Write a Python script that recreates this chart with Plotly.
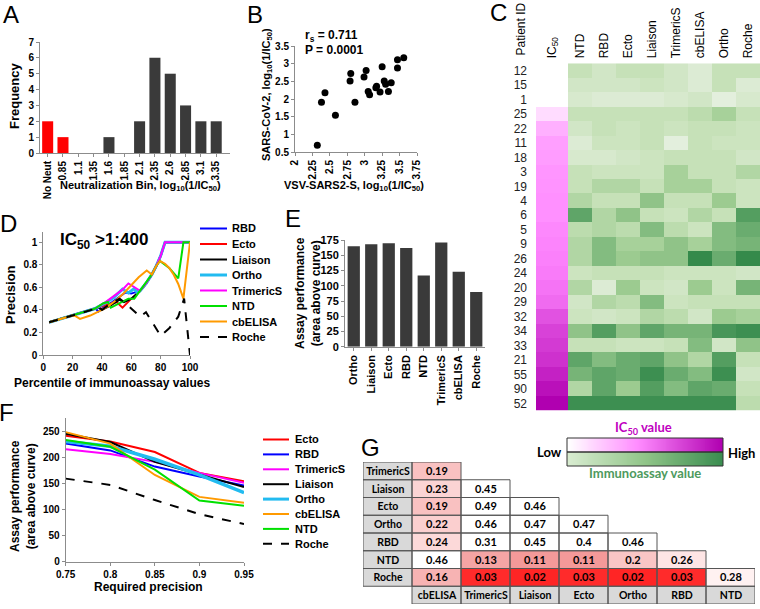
import numpy as np
import plotly.graph_objects as go

W, H = 760, 609
def PX(x): return x / W
def PY(y): return 1 - y / H
def dom_x(a, b): return [PX(a), PX(b)]
def dom_y(top, bottom): return [PY(bottom), PY(top)]

FONT = "Liberation Sans, Arial, sans-serif"
TFONT = "Lato, Carlito, Calibri, sans-serif"

# ---------------- Data ----------------
# Panel A: histogram of neutralization bins
bin_labels = ["No Neut", "0.85", "1.1", "1.35", "1.6", "1.85", "2.1", "2.35", "2.6", "2.85", "3.1", "3.35"]
bin_freq = [2, 1, 0, 0, 1, 0, 2, 6, 5, 3, 2, 2]
non_neut_bins = ["No Neut", "0.85"]

# Panel B: VSV-SARS2-S vs SARS-CoV-2 neutralization
vsv_log = [2.32, 2.38, 2.43, 2.58, 2.80, 2.79, 2.86, 2.99, 3.02, 3.05, 3.07,
           3.16, 3.17, 3.22, 3.25, 3.28, 3.30, 3.34, 3.38, 3.47, 3.47, 3.56]
sars_log = [0.69, 1.91, 2.18, 1.54, 2.72, 2.51, 1.91, 2.62, 2.81, 2.21, 2.12,
            2.32, 2.36, 2.20, 2.91, 2.51, 2.42, 2.21, 2.46, 3.11, 2.88, 3.17]
rs_text = "r<sub>s</sub> = 0.711"
p_text = "P = 0.0001"

# Panel C: heatmap
patient_ids = ["12", "15", "1", "25", "22", "11", "18", "3", "19", "4", "6", "5",
               "9", "26", "24", "20", "29", "32", "34", "33", "21", "55", "90", "52"]
ic50_log = [None, None, None, 0.7, 1.55, 1.9, 1.95, 2.1, 2.15, 2.2, 2.2, 2.3,
            2.35, 2.4, 2.45, 2.5, 2.55, 2.7, 2.8, 2.85, 2.9, 3.0, 3.1, 3.2]
assay_cols = ["NTD", "RBD", "Ecto", "Liaison", "TrimericS", "cbELISA", "Ortho", "Roche"]
heat_ntd = [3, 2, 1.5, 3, 2, 1, 1.5, 3, 3, 4, 7.5, 3.5, 4, 4, 2.5, 4, 2, 2.5, 5.5, 3, 7.5, 6.5, 4, 9]
heat_rbd = [2, 2, 1, 3, 3, 2.5, 1.5, 2.5, 4, 3, 4, 4, 6, 6, 3, 1, 4, 2, 8, 3, 6, 7.5, 7.5, 9]
heat_ecto = [3, 2, 1, 3, 2.5, 2.5, 2, 2.5, 4, 3, 5.5, 3.5, 4.5, 5, 3, 5, 3.5, 2.5, 5.5, 2.5, 7, 7, 5, 9]
heat_liaison = [3, 2.5, 1, 3, 3, 3, 2.5, 2.5, 3, 5.5, 3, 6, 4.5, 5.5, 3, 2.5, 6, 4, 7.5, 2.5, 7.5, 9, 8, 9]
heat_trimerics = [2, 2, 1.5, 3, 2.5, 0.5, 3, 4.5, 4.5, 3, 2.5, 3.5, 5.5, 5.5, 2.5, 2, 2.5, 3.5, 6.5, 3, 5.5, 7, 6, 9]
heat_cbelisa = [1, 1, 2, 3.5, 3, 3, 3, 3, 4.5, 3, 4, 2.5, 4.5, 9.5, 2.5, 5, 3, 2, 6.5, 6, 4, 6, 7.5, 9]
heat_ortho = [3, 3, 0.5, 4.5, 3, 2.5, 3, 3, 3, 5, 3, 6, 6, 7, 2.5, 2.5, 3, 5, 8.5, 2, 8, 9, 7, 9]
heat_roche = [3, 1, 1.5, 3, 2.5, 2.5, 2, 4, 2.5, 2.5, 8, 7, 6.5, 9.5, 2, 6.5, 3, 4.5, 9, 5.5, 3, 2, 3, 3.5]

# Panel D: precision vs percentile
rbd_pct = [4, 20, 33, 35.5, 37.5, 42, 47, 52, 56, 60, 63, 66, 70, 74, 77, 80, 83, 100]
rbd_prec = [.29, .35, .40, .415, .385, .43, .47, .52, .555, .545, .555, .57, .634, .715, .79, .88, 1, 1]
ecto_pct = [4, 20, 35, 42, 50, 54, 60, 63, 66, 70, 74, 77, 80, 83, 100]
ecto_prec = [.29, .35, .41, .44, .47, .42, .50, .53, .57, .634, .715, .79, .88, 1, 1]
liaison_pct = [4, 20, 33, 38, 40, 46, 52, 55, 60, 66, 70, 74, 77, 80, 83, 100]
liaison_prec = [.29, .35, .40, .42, .40, .44, .49, .47, .50, .57, .634, .715, .79, .88, 1, 1]
ortho_pct = [4, 20, 35, 42, 48, 54, 58, 62, 64, 66, 70, 74, 77, 80, 83, 100]
ortho_prec = [.29, .35, .41, .46, .51, .585, .55, .59, .555, .57, .634, .715, .79, .88, 1, 1]
trimerics_pct = [4, 20, 35, 42, 48, 54, 58, 62, 66, 70, 74, 77, 80, 83, 100]
trimerics_prec = [.29, .35, .41, .465, .52, .58, .635, .60, .57, .634, .715, .79, .88, 1, 1]
ntd_pct = [4, 20, 35, 41, 44, 46, 52, 58, 62, 66, 70, 74, 77, 79.5, 86, 92, 95.5, 100]
ntd_prec = [.29, .35, .41, .46, .47, .42, .46, .50, .50, .57, .634, .715, .79, .834, .77, .68, 1, 1]
cbelisa_pct = [4, 20, 22, 25, 32, 40, 45, 50, 55, 60, 65, 70.5, 74, 77, 79.5, 83, 86, 89, 92, 95.5, 100]
cbelisa_prec = [.29, .35, .345, .32, .35, .40, .44, .49, .55, .62, .69, .75, .715, .79, .834, .81, .77, .71, .63, .50, 1]
roche_pct = [4, 20, 35, 38, 40, 44, 48, 52, 56, 60, 66, 70, 80, 86, 92, 96, 100]
roche_prec = [.29, .35, .41, .42, .40, .44, .47, .50, .46, .41, .34, .38, .17, .24, .34, .50, 0]

# Panel E: assay performance
assays_e = ["Ortho", "Liaison", "Ecto", "RBD", "NTD", "TrimericS", "cbELISA", "Roche"]
perf_e = [165, 168, 170, 162, 117, 171, 123, 90]

# Panel F: performance vs required precision
req_prec = [0.75, 0.8, 0.85, 0.9, 0.95]
ecto_f = [241, 230, 210, 170, 154]
rbd_f = [226, 213, 182, 163, 146]
trimerics_f = [215, 206, 191, 170, 151]
liaison_f = [245, 229, 191, 167, 143]
ortho_f = [230, 221, 196, 166, 132]
cbelisa_f = [248, 226, 166, 124, 113]
ntd_f = [233, 220, 176, 117, 107]
roche_f = [159, 147, 118, 91, 72]

# Panel G: pairwise table
table_rows = ["TrimericS", "Liaison", "Ecto", "Ortho", "RBD", "NTD", "Roche"]
table_cols = ["cbELISA", "TrimericS", "Liaison", "Ecto", "Ortho", "RBD", "NTD"]
g_trimerics = [0.19]
g_liaison = [0.23, 0.45]
g_ecto = [0.19, 0.49, 0.46]
g_ortho = [0.22, 0.46, 0.47, 0.47]
g_rbd = [0.24, 0.31, 0.45, 0.4, 0.46]
g_ntd = [0.46, 0.13, 0.11, 0.11, 0.2, 0.26]
g_roche = [0.16, 0.03, 0.02, 0.03, 0.02, 0.03, 0.28]

# ---------------- Styles ----------------
STYLE = {
    "RBD": dict(color="#0000ff", width=2, dash="solid"),
    "Ecto": dict(color="#ff0000", width=2, dash="solid"),
    "Liaison": dict(color="#000000", width=2, dash="solid"),
    "Ortho": dict(color="#22bbf0", width=3, dash="solid"),
    "TrimericS": dict(color="#ff00ff", width=2, dash="solid"),
    "NTD": dict(color="#00e000", width=2, dash="solid"),
    "cbELISA": dict(color="#ff9a00", width=2, dash="solid"),
    "Roche": dict(color="#000000", width=2, dash="dash"),
}

fig = go.Figure()
ann = []
shapes = []

def add_text(text, x, y, size=11, angle=0, xanchor="center", yanchor="middle",
             color="#000", family=FONT, weight="bold"):
    ann.append(dict(text=text, x=PX(x), y=PY(y), xref="paper", yref="paper",
                    showarrow=False, textangle=angle, xanchor=xanchor, yanchor=yanchor,
                    font=dict(size=size, color=color, family=family, weight=weight)))

AX = dict(showline=True, linecolor="#8c8c8c", linewidth=1, ticks="outside", ticklen=3,
          tickcolor="#8c8c8c", showgrid=False, zeroline=False, automargin=False,
          tickfont=dict(size=10, family=FONT, weight="bold", color="#000"))

# ---- Panel A ----
bar_colors = ["#ff0000" if b in non_neut_bins else "#3a3a3a" for b in bin_labels]
fig.add_trace(go.Bar(x=bin_labels, y=bin_freq, marker=dict(color=bar_colors, line=dict(width=0)),
                     width=0.72, xaxis="x", yaxis="y", hoverinfo="skip"))

# ---- Panel B ----
fig.add_trace(go.Scatter(x=vsv_log, y=sars_log, mode="markers",
                         marker=dict(color="#000", size=7), xaxis="x2", yaxis="y2", hoverinfo="skip"))

# ---- Panel C ----
ic_scale = [[0, "#ffe6ff"], [0.39, "#ffb0ff"], [0.63, "#ff90ff"], [0.72, "#fa7cfa"],
            [0.82, "#e050e0"], [1, "#b000b0"]]
green_scale = [[0, "#eaf3e6"], [0.1, "#dcebd4"], [0.3, "#c6e1b8"], [0.5, "#9ccb90"],
               [0.7, "#6aac6f"], [0.9, "#3d8f51"], [1, "#2c8545"]]
fig.add_trace(go.Heatmap(x=["IC<sub>50</sub>"], y=patient_ids, z=[[v] for v in ic50_log],
                         colorscale=ic_scale, zmin=0.5, zmax=3.2, showscale=False,
                         xaxis="x3", yaxis="y3", hoverinfo="skip"))
heat_cols = [heat_ntd, heat_rbd, heat_ecto, heat_liaison, heat_trimerics, heat_cbelisa, heat_ortho, heat_roche]
heat_z = [[col[i] for col in heat_cols] for i in range(len(patient_ids))]
fig.add_trace(go.Heatmap(x=assay_cols, y=patient_ids, z=heat_z, colorscale=green_scale,
                         zmin=0, zmax=10, showscale=False, xaxis="x4", yaxis="y4", hoverinfo="skip"))

# ---- Panel D ----
d_series = [("RBD", rbd_pct, rbd_prec), ("Ecto", ecto_pct, ecto_prec),
            ("Liaison", liaison_pct, liaison_prec), ("Ortho", ortho_pct, ortho_prec),
            ("TrimericS", trimerics_pct, trimerics_prec), ("NTD", ntd_pct, ntd_prec),
            ("cbELISA", cbelisa_pct, cbelisa_prec), ("Roche", roche_pct, roche_prec)]
for name, xs, ys in d_series:
    st = STYLE[name]
    fig.add_trace(go.Scatter(x=xs, y=ys, mode="lines", name=name,
                             line=dict(color=st["color"], width=st["width"], dash=st["dash"]),
                             xaxis="x5", yaxis="y5", hoverinfo="skip"))
for i, (name, _, _) in enumerate(d_series):
    st = STYLE[name]
    yy = 228.5 + i * 15.5
    shapes.append(dict(type="line", xref="paper", yref="paper", x0=PX(200), x1=PX(227),
                       y0=PY(yy), y1=PY(yy), line=dict(color=st["color"], width=st["width"], dash=st["dash"])))
    add_text(name, 230, yy, size=11, xanchor="left")

# ---- Panel E ----
fig.add_trace(go.Bar(x=assays_e, y=perf_e, marker=dict(color="#3a3a3a", line=dict(width=0)),
                     width=0.7, xaxis="x6", yaxis="y6", hoverinfo="skip"))

# ---- Panel F ----
f_series = [("Ecto", ecto_f), ("RBD", rbd_f), ("TrimericS", trimerics_f), ("Liaison", liaison_f),
            ("Ortho", ortho_f), ("cbELISA", cbelisa_f), ("NTD", ntd_f), ("Roche", roche_f)]
for name, ys in f_series:
    st = STYLE[name]
    w = 3.5 if name == "Ortho" else 2
    fig.add_trace(go.Scatter(x=req_prec, y=ys, mode="lines", name=name,
                             line=dict(color=st["color"], width=w, dash=st["dash"]),
                             xaxis="x7", yaxis="y7", hoverinfo="skip"))
for i, (name, _) in enumerate(f_series):
    st = STYLE[name]
    yy = 439.5 + i * 14.9
    shapes.append(dict(type="line", xref="paper", yref="paper", x0=PX(263), x1=PX(289),
                       y0=PY(yy), y1=PY(yy), line=dict(color=st["color"], width=st["width"], dash=st["dash"])))
    add_text(name, 293, yy, size=11, xanchor="left")

# ---- Panel G ----
g_vals = [g_trimerics, g_liaison, g_ecto, g_ortho, g_rbd, g_ntd, g_roche]
ncol = len(table_cols) + 1
nrow = len(table_rows) + 1
val_z = [[None] * ncol for _ in range(nrow)]
val_t = [[""] * ncol for _ in range(nrow)]
hdr_z = [[None] * ncol for _ in range(nrow)]
hdr_t = [[""] * ncol for _ in range(nrow)]
for r, row in enumerate(g_vals):
    hdr_z[r][0] = 1
    hdr_t[r][0] = table_rows[r]
    for c, v in enumerate(row):
        val_z[r][c + 1] = v
        val_t[r][c + 1] = str(v)
for c, name in enumerate(table_cols):
    hdr_z[nrow - 1][c + 1] = 1
    hdr_t[nrow - 1][c + 1] = name
red_scale = [[0, "#ff1a1a"], [0.1, "#ff2b2b"], [0.37, "#f49a9a"], [0.55, "#f7b5b5"],
             [0.65, "#f9c3c3"], [0.8, "#fcd9d9"], [0.93, "#fff0f0"], [1, "#ffffff"]]
xs_g = list(range(ncol))
ys_g = list(range(nrow))
fig.add_trace(go.Heatmap(x=xs_g, y=ys_g, z=hdr_z, text=hdr_t, texttemplate="<b>%{text}</b>",
                         textfont=dict(family=TFONT, size=10.5, color="#000"),
                         colorscale=[[0, "#d9d9d9"], [1, "#d9d9d9"]], showscale=False,
                         xaxis="x8", yaxis="y8", hoverinfo="skip"))
fig.add_trace(go.Heatmap(x=xs_g, y=ys_g, z=val_z, text=val_t, texttemplate="<b>%{text}</b>",
                         textfont=dict(family=TFONT, size=11, color="#000"),
                         colorscale=red_scale, zmin=0, zmax=0.3, showscale=False,
                         xaxis="x8", yaxis="y8", hoverinfo="skip"))
for r in range(nrow):
    for c in range(ncol):
        if hdr_z[r][c] is not None or val_z[r][c] is not None:
            shapes.append(dict(type="rect", xref="x8", yref="y8", x0=c - 0.5, x1=c + 0.5,
                               y0=r - 0.5, y1=r + 0.5, line=dict(color="#555", width=1)))

# ---- Gradient key ----
ramp = [list(np.linspace(0, 1, 80))]
fig.add_trace(go.Heatmap(z=ramp, colorscale=[[0, "#ffffff"], [0.45, "#ff8cff"], [1, "#b000b0"]],
                         showscale=False, zsmooth="best", xaxis="x9", yaxis="y9", hoverinfo="skip"))
fig.add_trace(go.Heatmap(z=ramp, colorscale=[[0, "#d8ecd0"], [0.5, "#90c488"], [1, "#3a8d50"]],
                         showscale=False, zsmooth="best", xaxis="x10", yaxis="y10", hoverinfo="skip"))
shapes.append(dict(type="rect", xref="paper", yref="paper", x0=PX(567), x1=PX(723),
                   y0=PY(438), y1=PY(452), line=dict(color="#333", width=1)))
shapes.append(dict(type="rect", xref="paper", yref="paper", x0=PX(567), x1=PX(723),
                   y0=PY(452), y1=PY(466), line=dict(color="#333", width=1)))
add_text("IC<sub>50</sub> value", 643, 428, size=13, color="#c000c0", family=TFONT)
add_text("Low", 549, 452, size=13, family=TFONT)
add_text("High", 741, 453, size=13, family=TFONT)
add_text("Immunoassay value", 645, 473, size=13, color="#4e9a5e", family=TFONT)

# ---- Titles / labels ----
add_text("Frequency", 14, 96, size=13, angle=-90)
add_text("Neutralization Bin, log<sub>10</sub>(1/IC<sub>50</sub>)", 140, 186, size=11)
add_text("SARS-CoV-2, log<sub>10</sub>(1/IC<sub>50</sub>)", 267, 95, size=11, angle=-90)
add_text("VSV-SARS2-S, log<sub>10</sub>(1/IC<sub>50</sub>)", 354, 186, size=11)
add_text(rs_text, 303, 36, size=12, xanchor="left")
add_text(p_text, 303, 50, size=12, xanchor="left")
add_text("Patient ID", 520, 58, size=12, angle=-90, yanchor="bottom", weight="normal")
add_text("Precision", 10, 295, size=13, angle=-90)
add_text("Percentile of immunoassay values", 112, 383, size=12)
add_text("IC<sub>50</sub> >1:400", 104, 241, size=17)
add_text("Assay performance<br>(area above curve)", 308, 293, size=12, angle=-90)
add_text("Assay performance<br>(area above curve)", 23, 496, size=12, angle=-90)
add_text("Required precision", 148, 587, size=12)
for letter, x, y in [("A", 11, 15), ("B", 255, 15), ("C", 498, 13), ("D", 8, 223),
                     ("E", 293, 218), ("F", 7, 413), ("G", 370, 447)]:
    add_text(letter, x, y, size=24, weight="normal")

HIDE = dict(showline=False, showticklabels=False, ticks="", showgrid=False, zeroline=False,
            automargin=False)

layout = dict(
    template="none",
    width=W, height=H, margin=dict(l=0, r=0, t=0, b=0, pad=0, autoexpand=False), showlegend=False,
    paper_bgcolor="white", plot_bgcolor="white",
    font=dict(family=FONT, size=11, color="#000", weight="bold"),
    xaxis=dict(AX, domain=dom_x(40, 230), range=[-0.5, 11.9], type="category", tickangle=-90, anchor="y"),
    yaxis=dict(AX, domain=dom_y(42, 153), range=[0, 7], dtick=1, anchor="x"),
    xaxis2=dict(AX, domain=dom_x(295, 417), range=[2, 3.75], tickvals=[2, 2.25, 2.5, 2.75, 3, 3.25, 3.5, 3.75],
                tickangle=-90, anchor="y2"),
    yaxis2=dict(AX, domain=dom_y(46, 152), range=[0.5, 3.5], tickvals=[0.5, 1, 1.5, 2, 2.5, 3, 3.5],
                anchor="x2"),
    xaxis3=dict(HIDE, domain=dom_x(536, 568), side="top", showticklabels=True, tickangle=-90,
                ticklabelstandoff=4, tickfont=dict(size=12, weight="normal"), anchor="y3"),
    yaxis3=dict(HIDE, domain=dom_y(63.3, 410.7), type="category", categoryorder="array",
                categoryarray=patient_ids, autorange="reversed", showticklabels=True,
                ticklabelstandoff=8, tickfont=dict(size=12, weight="normal", color="#222"), anchor="x3"),
    xaxis4=dict(HIDE, domain=dom_x(568, 760), side="top", showticklabels=True, tickangle=-90,
                ticklabelstandoff=4, tickfont=dict(size=12, weight="normal"), anchor="y4"),
    yaxis4=dict(HIDE, domain=dom_y(63.3, 410.7), type="category", categoryorder="array",
                categoryarray=patient_ids, autorange="reversed", anchor="x4"),
    xaxis5=dict(AX, domain=dom_x(43.3, 190), range=[0, 100], dtick=20, anchor="y5"),
    yaxis5=dict(AX, domain=dom_y(231.7, 355), range=[0, 1.094], tickvals=[0, 0.2, 0.4, 0.6, 0.8, 1],
                anchor="x5"),
    xaxis6=dict(AX, domain=dom_x(345, 485), range=[-0.5, 7.5], type="category", tickangle=-90,
                tickfont=dict(size=11, weight="bold"), anchor="y6"),
    yaxis6=dict(AX, domain=dom_y(239.5, 346.7), range=[0, 176], dtick=25,
                tickfont=dict(size=11, weight="bold"), anchor="x6"),
    xaxis7=dict(AX, domain=dom_x(65.7, 244), range=[0.75, 0.95],
                tickvals=req_prec, ticktext=["0.75", "0.8", "0.85", "0.9", "0.95"], anchor="y7"),
    yaxis7=dict(AX, domain=dom_y(418, 561.7), range=[0, 275], tickvals=[0, 50, 100, 150, 200, 250],
                anchor="x7"),
    xaxis8=dict(HIDE, domain=dom_x(363, 755), range=[-0.5, ncol - 0.5], anchor="y8"),
    yaxis8=dict(HIDE, domain=dom_y(462, 604), range=[nrow - 0.5, -0.5], anchor="x8"),
    xaxis9=dict(HIDE, domain=dom_x(567, 723), anchor="y9"),
    yaxis9=dict(HIDE, domain=dom_y(438, 452), anchor="x9"),
    xaxis10=dict(HIDE, domain=dom_x(567, 723), anchor="y10"),
    yaxis10=dict(HIDE, domain=dom_y(452, 466), anchor="x10"),
    annotations=ann, shapes=shapes,
)
fig.update_layout(**layout)
fig.write_html("out.html", config={"staticPlot": True, "displayModeBar": False},
               post_script="document.body.style.margin='0';document.body.style.padding='0';"
                           "document.documentElement.style.overflow='hidden';")
